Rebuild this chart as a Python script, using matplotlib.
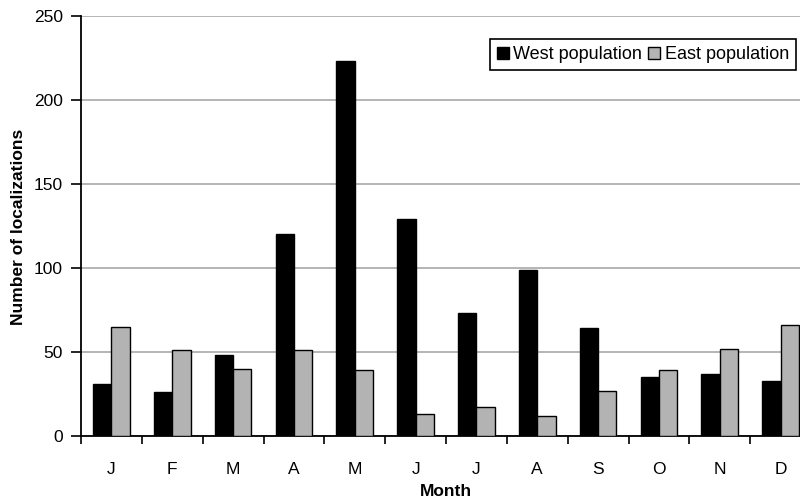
import matplotlib
matplotlib.use("Agg")
import matplotlib.pyplot as plt
import numpy as np

plt.rcParams['font.family'] = ['Liberation Sans', 'DejaVu Sans']

months = ["J", "F", "M", "A", "M", "J", "J", "A", "S", "O", "N", "D"]
west = [31, 26, 48, 120, 223, 129, 73, 99, 64, 35, 37, 33]
east = [65, 51, 40, 51, 39, 13, 17, 12, 27, 39, 52, 66]
yticks = [0, 50, 100, 150, 200, 250]

W, H = 800, 503
fig = plt.figure(figsize=(W / 100, H / 100), dpi=100)
ax = fig.add_axes([81 / W, 67 / H, 730 / W, 420.3 / H])

x = np.arange(len(months)) + 0.5
bw = 0.3
ax.bar(x - bw / 2, west, bw, color="black", edgecolor="black", linewidth=1.0,
       label="West population", zorder=3)
ax.bar(x + bw / 2, east, bw, color="#b3b3b3", edgecolor="black", linewidth=1.0,
       label="East population", zorder=3)

ax.set_xlim(0, len(months))
ax.set_ylim(0, 250)
ax.set_yticks(yticks)
ax.set_yticklabels([str(v) for v in yticks], fontsize=12.5)
ax.yaxis.grid(True, color="#a8a8a8", linewidth=1.2, zorder=0)
ax.set_axisbelow(True)

ax.set_xticks(np.arange(len(months) + 1))
ax.set_xticklabels([])
ax.set_xticks(x, minor=True)
ax.set_xticklabels(months, minor=True, fontsize=12.5)
ax.tick_params(axis="x", which="major", length=6, width=1.2, direction="out")
ax.tick_params(axis="x", which="minor", length=0, pad=19)
ax.tick_params(axis="y", length=7, width=1.2, direction="out", pad=6)

for s in ["top", "right"]:
    ax.spines[s].set_visible(False)
ax.spines["left"].set_linewidth(1.3)
ax.spines["bottom"].set_linewidth(1.3)

fig.text(19 / W, 1 - 227 / H, "Number of localizations", rotation=90,
         ha="center", va="center", fontsize=12.5, fontweight="bold")
fig.text(446 / W, 1 - 492 / H, "Month", ha="center", va="center",
         fontsize=12.5, fontweight="bold")

leg = ax.legend(loc="upper right", bbox_to_anchor=(796 / W, 1 - 39 / H),
                bbox_transform=fig.transFigure, borderaxespad=0, ncol=2,
                fontsize=13, handlelength=0.65, handleheight=0.65,
                handletextpad=0.25, columnspacing=0.35, borderpad=0.4,
                fancybox=False, framealpha=1, edgecolor="black")
leg.get_frame().set_linewidth(1.2)

fig.savefig("out.png", dpi=100)
